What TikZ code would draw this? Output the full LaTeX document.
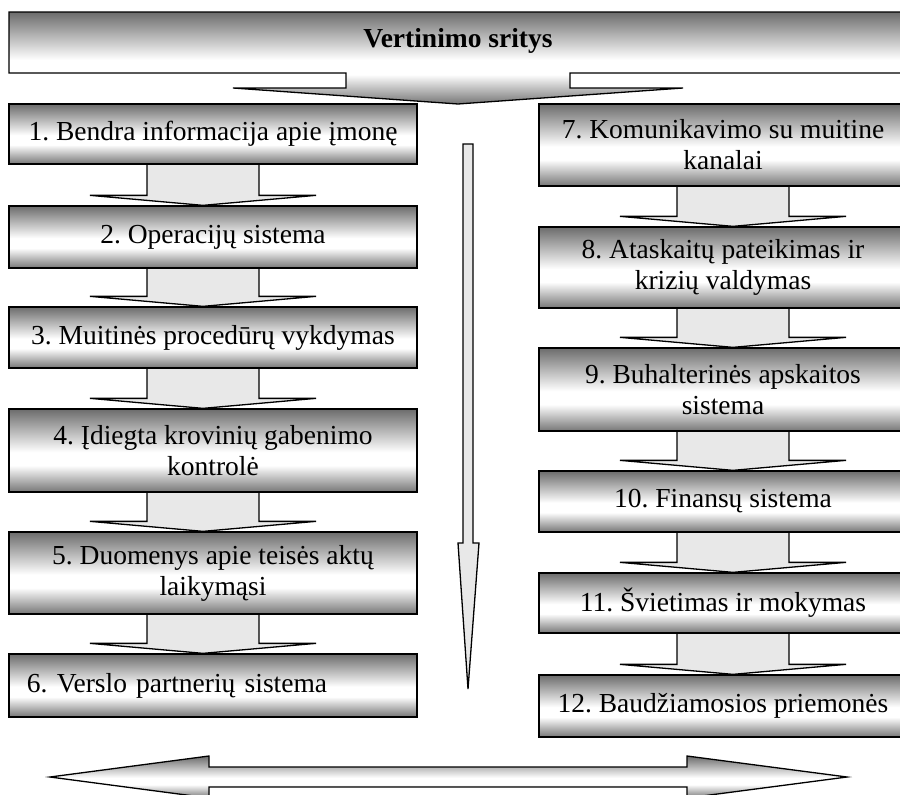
\documentclass[tikz,border=0pt]{standalone}
\usepackage{fontspec}
\setmainfont{Liberation Serif}
\usetikzlibrary{calc}
\frenchspacing

\pgfdeclarelayer{bg}
\pgfsetlayers{bg,main}

\definecolor{shadetop}{RGB}{108,108,108}
\definecolor{shadebot}{RGB}{118,118,118}
\definecolor{arrowfill}{RGB}{232,232,232}

% chrome-like vertical gradient: dark edges, white band a little below the middle
\pgfdeclareverticalshading{chrome}{100bp}{%
  color(0bp)=(shadebot); color(25bp)=(shadebot); color(41bp)=(white);
  color(49bp)=(white); color(75bp)=(shadetop); color(100bp)=(shadetop)}

\tikzset{
  outline/.style={draw=black, line width=1.3pt, line join=miter},
  area/.style={outline, shade, shading=chrome, inner sep=0pt,
    font=\fontsize{27.5}{31}\selectfont, align=center},
  leftarea/.style={area, minimum width=408pt},
  rightarea/.style={area, minimum width=368pt},
  conn/.style={outline, fill=arrowfill},
}

% block arrow from the bottom of #1 to the top of #2, centred on x = #3
\newcommand\linkdown[3]{%
  \draw[conn] let \p1=(#1.south), \p2=(#2.north) in
    ({#3pt-56pt},\y1) -- ({#3pt-56pt},{\y2+10pt}) -- ({#3pt-113pt},{\y2+10pt})
    -- (#3pt,\y2) -- ({#3pt+113pt},{\y2+10pt}) -- ({#3pt+56pt},{\y2+10pt})
    -- ({#3pt+56pt},\y1);}

\begin{document}
\begin{tikzpicture}[x=1pt,y=-1pt]
\path[use as bounding box, clip] (0,0) rectangle (900,795);

% heading banner with its downward pointer
\shadedraw[outline, shading=chrome] (9,12) -- (907,12) -- (907,73) -- (570,73)
  -- (570,88) -- (683,88) -- (458,104) -- (233,88) -- (346,88) -- (346,73)
  -- (9,73) -- cycle;
\node[font=\bfseries\fontsize{27.5}{31}\selectfont] (title) at (458,41) {Vertinimo sritys};

% left column
\node[leftarea, minimum height=60pt] (b1) at (213,134) {1. Bendra informacija apie įmonę};
\node[leftarea, minimum height=62pt] (b2) at (213,237) {2. Operacijų sistema};
\node[leftarea, minimum height=61pt] (b3) at (213,337.5) {3. Muitinės procedūrų vykdymas};
\node[leftarea, minimum height=83pt] (b4) at (213,450.5) {4. Įdiegta krovinių gabenimo\\kontrolė};
\node[leftarea, minimum height=82pt] (b5) at (213,573) {5. Duomenys apie teisės aktų\\laikymąsi};
\node[leftarea, minimum height=63pt, inner xsep=18pt, text width=372pt, align=left]
  (b6) at (213,685.5) {6. Verslo partnerių sistema};

% right column
\node[rightarea, minimum height=82pt] (b7) at (723,145) {7. Komunikavimo su muitine\\kanalai};
\node[rightarea, minimum height=81pt] (b8) at (723,267.5) {8. Ataskaitų pateikimas ir\\krizių valdymas};
\node[rightarea, minimum height=83pt] (b9) at (723,389.5) {9. Buhalterinės apskaitos\\sistema};
\node[rightarea, minimum height=61pt] (b10) at (723,501.5) {10. Finansų sistema};
\node[rightarea, minimum height=60pt] (b11) at (723,603) {11. Švietimas ir mokymas};
\node[rightarea, minimum height=62pt] (b12) at (723,706) {12. Baudžiamosios priemonės};

% block arrows between consecutive areas
\begin{pgfonlayer}{bg}
  \linkdown{b1}{b2}{203}
  \linkdown{b2}{b3}{203}
  \linkdown{b3}{b4}{203}
  \linkdown{b4}{b5}{203}
  \linkdown{b5}{b6}{203}
  \linkdown{b7}{b8}{733}
  \linkdown{b8}{b9}{733}
  \linkdown{b9}{b10}{733}
  \linkdown{b10}{b11}{733}
  \linkdown{b11}{b12}{733}
\end{pgfonlayer}

% long downward arrow between the columns
\draw[conn] (463,144) -- (473,144) -- (473,543) -- (479,543) -- (468,689)
  -- (458,543) -- (463,543) -- cycle;

% double-headed arrow along the bottom
\shadedraw[outline, shading=chrome] (50,777) -- (209,756) -- (209,767) -- (687,767)
  -- (687,756) -- (847,777) -- (687,798) -- (687,787) -- (209,787) -- (209,798) -- cycle;
\end{tikzpicture}
\end{document}
